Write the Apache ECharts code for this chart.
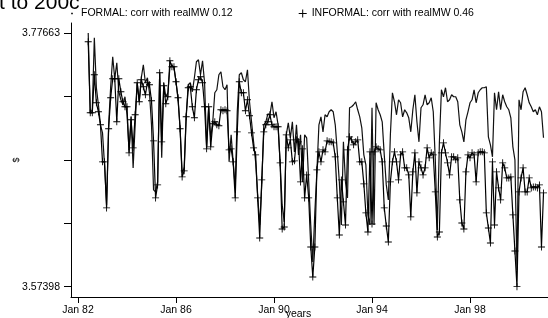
<!DOCTYPE html>
<html>
<head>
<meta charset="utf-8">
<script src="https://cdn.jsdelivr.net/npm/echarts@6/dist/echarts.min.js"></script>
<style>
  html, body { margin: 0; padding: 0; background: #fff; }
  #main { width: 548px; height: 318px; }
</style>
</head>
<body>
<div id="main"></div>
<script>
// months counted Stata style (%tm, 0 = Jan 1960); first obs = Jun 82
var startMonth = 269;
var tickMonths = [264, 312, 360, 408, 456];
var yTicks = [3.57398, 3.62464, 3.6753, 3.72597, 3.77663];
var yLabels = [3.57398, 3.77663];
var legendNames = ['FORMAL: corr with realMW 0.12', 'INFORMAL: corr with realMW 0.46'];

// log real wage, formal sector
var formal = [
    3.77663, 3.7129, 3.7153, 3.7729, 3.7329, 3.7193, 3.7033,
    3.6969, 3.6713, 3.6393, 3.7033, 3.7337, 3.7577, 3.7401, 3.7529, 3.7297, 3.7233, 3.7193, 3.7257,
    3.7113, 3.6833, 3.7097, 3.6689, 3.7033, 3.7369, 3.7217, 3.7409, 3.7513, 3.7369, 3.7409, 3.7289,
    3.7033, 3.6513, 3.6497, 3.6577, 3.7449, 3.6769, 3.7369, 3.7257, 3.7289, 3.7489, 3.7513, 3.7489,
    3.7377, 3.7233, 3.7009, 3.6649, 3.6689, 3.7113, 3.7353, 3.7369, 3.7297, 3.7409, 3.7537, 3.7553,
    3.7433, 3.7545, 3.7369, 3.6857, 3.7177, 3.6929, 3.7057, 3.7289, 3.7313, 3.7433, 3.7457, 3.7337,
    3.7313, 3.7353, 3.6737, 3.6953, 3.6737, 3.6529, 3.7137, 3.7433, 3.7449, 3.7393, 3.7377, 3.7473,
    3.7217, 3.7057, 3.6897, 3.6737, 3.6473, 3.6233, 3.6553, 3.7033, 3.7057, 3.7121, 3.7113, 3.7217,
    3.7089, 3.7137, 3.7033, 3.6729, 3.6393, 3.6257, 3.6953, 3.7049, 3.6929, 3.7057, 3.6817, 3.7033,
    3.6793, 3.6953, 3.6577, 3.6953, 3.6929, 3.6577, 3.6233, 3.5937, 3.6337, 3.6657, 3.7033, 3.7097,
    3.6977, 3.7113, 3.7097, 3.7137, 3.7153, 3.7137, 3.7033, 3.6817, 3.6577, 3.6233, 3.6897, 3.6577,
    3.6449, 3.7169, 3.7177, 3.7193, 3.7217, 3.7153, 3.7097, 3.7009, 3.6793, 3.6713, 3.6313, 3.6233,
    3.7169, 3.6233, 3.7209, 3.7153, 3.7113, 3.7057, 3.6793, 3.6553, 3.6433, 3.6953, 3.7289, 3.7217,
    3.7113, 3.7233, 3.7209, 3.7097, 3.7153, 3.7129, 3.7089, 3.6977, 3.7153, 3.7273, 3.7057, 3.6897,
    3.7169, 3.7193, 3.7273, 3.7193, 3.7209, 3.7249, 3.7137, 3.6753, 3.6193, 3.6889, 3.7313, 3.7257,
    3.7329, 3.7217, 3.7233, 3.7273, 3.7257, 3.7257, 3.7217, 3.7033, 3.6977, 3.6897, 3.7073, 3.7137,
    3.7209, 3.7233, 3.7313, 3.7209, 3.7289, 3.7313, 3.7329, 3.7329, 3.7337, 3.6937, 3.6873, 3.6777,
    3.7289, 3.7153, 3.7297, 3.7153, 3.7273, 3.7217, 3.7177, 3.7153, 3.7089, 3.6857, 3.6753, 3.5873,
    3.7233, 3.7153, 3.7297, 3.7329, 3.7273, 3.7209, 3.7177, 3.7137, 3.7153, 3.7113, 3.7177, 3.7137,
    3.6929
];

// log real wage, informal sector
var informal = [
    3.7697, 3.7129, 3.7129, 3.7433, 3.7209, 3.7137, 3.7033,
    3.6737, 3.6737, 3.6369, 3.7001, 3.7249, 3.7401, 3.7401, 3.7057, 3.7401, 3.7297, 3.7217, 3.7177,
    3.7177, 3.6809, 3.7073, 3.6849, 3.7113, 3.7369, 3.7217, 3.7393, 3.7337, 3.7273, 3.7369, 3.7353,
    3.7225, 3.6905, 3.6449, 3.6553, 3.7449, 3.6897, 3.7345, 3.7201, 3.7257, 3.7545, 3.7497, 3.7497,
    3.7377, 3.7249, 3.7001, 3.6617, 3.6665, 3.7097, 3.7329, 3.7337, 3.7177, 3.7089, 3.7313, 3.7393,
    3.7417, 3.7369, 3.7177, 3.6841, 3.7177, 3.6857, 3.7041, 3.7057, 3.7033, 3.7025, 3.7153, 3.7145,
    3.7153, 3.7145, 3.6833, 3.6841, 3.6737, 3.6449, 3.6977, 3.7377, 3.7289, 3.7289, 3.7145, 3.7233,
    3.7105, 3.6969, 3.6849, 3.6793, 3.6449, 3.6129, 3.6593, 3.6977, 3.7033, 3.7057, 3.7113, 3.7033,
    3.7017, 3.7017, 3.7017, 3.6729, 3.6201, 3.6217, 3.6953, 3.6849, 3.6913, 3.6737, 3.6745, 3.6913,
    3.6897, 3.6577, 3.6841, 3.6449, 3.6633, 3.6449, 3.6057, 3.5817, 3.6057, 3.6673, 3.6817, 3.6737,
    3.6833, 3.6817, 3.6905, 3.6897, 3.6897, 3.6889, 3.6777, 3.6449, 3.6153, 3.6593, 3.6417, 3.6233,
    3.6833, 3.6937, 3.6913, 3.6873, 3.6897, 3.6913, 3.6737, 3.6737, 3.6561, 3.6329, 3.6177, 3.6817,
    3.6241, 3.6817, 3.6857, 3.6841, 3.6833, 3.6737, 3.6369, 3.6225, 3.6097, 3.6577, 3.6737, 3.6817,
    3.6737, 3.6593, 3.6793, 3.6817, 3.6689, 3.6689, 3.6633, 3.6297, 3.6657, 3.6809, 3.6489, 3.6737,
    3.6689, 3.6633, 3.6689, 3.6849, 3.6769, 3.6809, 3.6793, 3.6497, 3.6137, 3.6177, 3.6809, 3.6889,
    3.6809, 3.6729, 3.6633, 3.6777, 3.6777, 3.6753, 3.6769, 3.6433, 3.6249, 3.6201, 3.6657, 3.6793,
    3.6769, 3.6809, 3.6793, 3.6577, 3.6809, 3.6817, 3.6817, 3.6809, 3.6329, 3.6209, 3.6089, 3.6737,
    3.6233, 3.6657, 3.6529, 3.6433, 3.6729, 3.6689, 3.6609, 3.6609, 3.6617, 3.6313, 3.6025, 3.57398,
    3.6497, 3.6609, 3.6689, 3.6497, 3.6497, 3.6609, 3.6529, 3.6537, 3.6537, 3.6529, 3.6553, 3.6057,
    3.6489
];

var FONT = '"Liberation Sans", Arial, sans-serif';
var plusIcon = 'path://M0,3.5H8V4.5H0Z M3.5,0H4.5V8H3.5Z';
// tiny dot inside an 8x8 box (corner moves keep the box size)
var dotIcon = 'path://M0,0L0,0M8,8L8,8M3.2,3.2H4.8V4.8H3.2Z';

function toPairs(arr) {
    var out = [];
    for (var i = 0; i < arr.length; i++) {
        out.push([startMonth + i, arr[i]]);
    }
    return out;
}

var myChart = echarts.init(document.getElementById('main'));
myChart.setOption({
    animation: false,
    backgroundColor: '#fff',
    title: {
        text: 't to 200c',
        left: -1,
        top: -7,
        padding: 0,
        textStyle: { fontFamily: FONT, fontSize: 21, fontWeight: 'normal', color: '#000' }
    },
    legend: {
        left: 68,
        top: 8,
        padding: 0,
        itemWidth: 8,
        itemHeight: 8,
        itemGap: 66,
        textStyle: { fontFamily: FONT, fontSize: 10.5, color: '#000' },
        data: [
            { name: legendNames[0], icon: dotIcon, itemStyle: { color: '#000' } },
            { name: legendNames[1], icon: plusIcon, itemStyle: { color: '#000' } }
        ]
    },
    grid: { left: 71, right: 0, top: 23, bottom: 21, containLabel: false, outerBoundsMode: 'none' },
    xAxis: {
        type: 'value',
        min: 260.57,
        max: 494.2,
        name: 'years',
        nameLocation: 'middle',
        nameGap: 12,
        nameMoveOverlap: false,
        nameTextStyle: { fontFamily: FONT, fontSize: 10.5, color: '#000', padding: [0, 22, 0, 0] },
        splitLine: { show: false },
        axisLine: { lineStyle: { color: '#000', width: 1 } },
        axisTick: { customValues: tickMonths, length: 6, lineStyle: { color: '#000' } },
        axisLabel: {
            customValues: tickMonths,
            margin: 8,
            fontFamily: FONT,
            fontSize: 10.5,
            color: '#000',
            formatter: function (v) {
                var yr = 1960 + Math.floor(v / 12);
                return 'Jan ' + String(yr).slice(2);
            }
        }
    },
    yAxis: {
        type: 'value',
        min: 3.56574,
        max: 3.78463,
        name: '$',
        nameLocation: 'middle',
        nameGap: 50,
        nameMoveOverlap: false,
        nameTextStyle: { fontFamily: FONT, fontSize: 9, color: '#000' },
        splitLine: { show: false },
        axisLine: { show: true, lineStyle: { color: '#000', width: 1 } },
        axisTick: { show: true, customValues: yTicks, length: 7, lineStyle: { color: '#000' } },
        axisLabel: {
            customValues: yLabels,
            margin: 11,
            fontFamily: FONT,
            fontSize: 10.5,
            color: '#000',
            formatter: function (v) { return v.toFixed(5); }
        }
    },
    series: [
        {
            name: legendNames[0],
            type: 'line',
            data: toPairs(formal),
            showSymbol: false,
            lineStyle: { color: '#111', width: 1.2 },
            itemStyle: { color: '#111' },
            z: 2
        },
        {
            name: legendNames[1],
            type: 'line',
            data: toPairs(informal),
            symbol: plusIcon,
            symbolSize: 7,
            showAllSymbol: true,
            lineStyle: { color: '#000', width: 1.2 },
            itemStyle: { color: '#000' },
            z: 3
        }
    ]
});
</script>
</body>
</html>
